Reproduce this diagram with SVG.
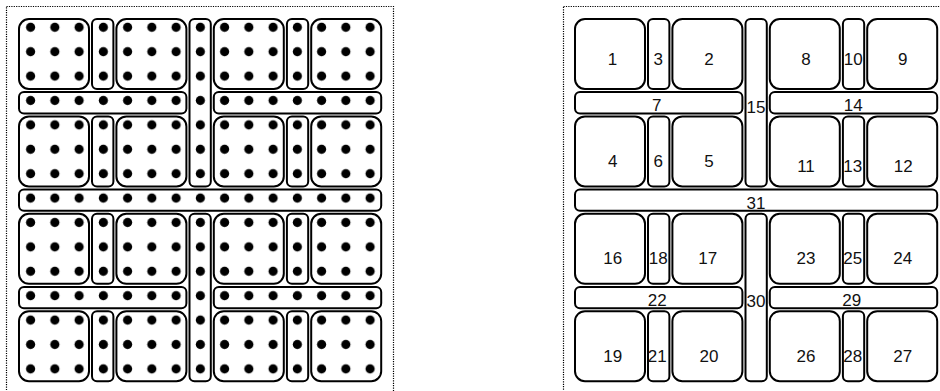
<svg xmlns="http://www.w3.org/2000/svg" width="940" height="391" viewBox="0 0 940 391">
<style>
.frame{fill:none;stroke:#000;stroke-width:1.2;stroke-dasharray:1.2 1.2}
.s{fill:#fff;stroke:#000;stroke-width:2}
.lbl{font-family:"Liberation Sans",Arial,sans-serif;font-size:17px;fill:#111;text-anchor:middle}
</style>
<defs>
<pattern id="dots" patternUnits="userSpaceOnUse" x="18.475" y="15.1" width="24.25" height="24.4">
<circle cx="12.125" cy="12.2" r="4.6" fill="#000"/>
</pattern>
</defs>
<rect width="940" height="391" fill="#fff"/>
<rect class="frame" x="6.5" y="6.5" width="387" height="400"/>
<rect class="frame" x="563.5" y="6.5" width="400" height="400"/>

<g id="left-panel">
<g id="L1"><rect class="s" x="19" y="19" width="70" height="70" rx="10"/></g>
<g id="L3"><rect class="s" x="92" y="19" width="21.4" height="70" rx="5"/></g>
<g id="L2"><rect class="s" x="116.4" y="19" width="70" height="70" rx="10"/></g>
<g id="L15"><rect class="s" x="189.5" y="19" width="21.3" height="167.4" rx="5"/></g>
<g id="L8"><rect class="s" x="213.8" y="19" width="70" height="70" rx="10"/></g>
<g id="L10"><rect class="s" x="286.9" y="19" width="21.3" height="70" rx="5"/></g>
<g id="L9"><rect class="s" x="311.2" y="19" width="70" height="70" rx="10"/></g>
<g id="L7"><rect class="s" x="19" y="92" width="167.4" height="21.4" rx="5"/></g>
<g id="L14"><rect class="s" x="213.8" y="92" width="167.4" height="21.4" rx="5"/></g>
<g id="L4"><rect class="s" x="19" y="116.4" width="70" height="70" rx="10"/></g>
<g id="L6"><rect class="s" x="92" y="116.4" width="21.4" height="70" rx="5"/></g>
<g id="L5"><rect class="s" x="116.4" y="116.4" width="70" height="70" rx="10"/></g>
<g id="L11"><rect class="s" x="213.8" y="116.4" width="70" height="70" rx="10"/></g>
<g id="L13"><rect class="s" x="286.9" y="116.4" width="21.3" height="70" rx="5"/></g>
<g id="L12"><rect class="s" x="311.2" y="116.4" width="70" height="70" rx="10"/></g>
<g id="L31"><rect class="s" x="19" y="189.5" width="362.2" height="21.3" rx="5"/></g>
<g id="L16"><rect class="s" x="19" y="213.8" width="70" height="70" rx="10"/></g>
<g id="L18"><rect class="s" x="92" y="213.8" width="21.4" height="70" rx="5"/></g>
<g id="L17"><rect class="s" x="116.4" y="213.8" width="70" height="70" rx="10"/></g>
<g id="L30"><rect class="s" x="189.5" y="213.8" width="21.3" height="167.4" rx="5"/></g>
<g id="L23"><rect class="s" x="213.8" y="213.8" width="70" height="70" rx="10"/></g>
<g id="L25"><rect class="s" x="286.9" y="213.8" width="21.3" height="70" rx="5"/></g>
<g id="L24"><rect class="s" x="311.2" y="213.8" width="70" height="70" rx="10"/></g>
<g id="L22"><rect class="s" x="19" y="286.9" width="167.4" height="21.3" rx="5"/></g>
<g id="L29"><rect class="s" x="213.8" y="286.9" width="167.4" height="21.3" rx="5"/></g>
<g id="L19"><rect class="s" x="19" y="311.2" width="70" height="70" rx="10"/></g>
<g id="L21"><rect class="s" x="92" y="311.2" width="21.4" height="70" rx="5"/></g>
<g id="L20"><rect class="s" x="116.4" y="311.2" width="70" height="70" rx="10"/></g>
<g id="L26"><rect class="s" x="213.8" y="311.2" width="70" height="70" rx="10"/></g>
<g id="L28"><rect class="s" x="286.9" y="311.2" width="21.3" height="70" rx="5"/></g>
<g id="L27"><rect class="s" x="311.2" y="311.2" width="70" height="70" rx="10"/></g>
<rect id="dot-grid" x="18" y="15" width="366" height="367" fill="url(#dots)"/>
</g>

<g id="right-panel">
<g id="n1"><rect class="s" x="575" y="19" width="70" height="70" rx="10"/><text class="lbl" x="612.5" y="65">1</text></g>
<g id="n3"><rect class="s" x="648" y="19" width="21.4" height="70" rx="5"/><text class="lbl" x="658.3" y="65">3</text></g>
<g id="n2"><rect class="s" x="672.4" y="19" width="70" height="70" rx="10"/><text class="lbl" x="709" y="65">2</text></g>
<g id="n15"><rect class="s" x="745.5" y="19" width="21.3" height="167.4" rx="5"/><text class="lbl" x="756" y="113.3">15</text></g>
<g id="n8"><rect class="s" x="769.8" y="19" width="70" height="70" rx="10"/><text class="lbl" x="806" y="65">8</text></g>
<g id="n10"><rect class="s" x="842.9" y="19" width="21.3" height="70" rx="5"/><text class="lbl" x="853.3" y="65">10</text></g>
<g id="n9"><rect class="s" x="867.2" y="19" width="70" height="70" rx="10"/><text class="lbl" x="902.7" y="65">9</text></g>
<g id="n7"><rect class="s" x="575" y="92" width="167.4" height="21.4" rx="5"/><text class="lbl" x="656.7" y="111">7</text></g>
<g id="n14"><rect class="s" x="769.8" y="92" width="167.4" height="21.4" rx="5"/><text class="lbl" x="853.3" y="111">14</text></g>
<g id="n4"><rect class="s" x="575" y="116.4" width="70" height="70" rx="10"/><text class="lbl" x="612.7" y="166.8">4</text></g>
<g id="n6"><rect class="s" x="648" y="116.4" width="21.4" height="70" rx="5"/><text class="lbl" x="658.3" y="166.8">6</text></g>
<g id="n5"><rect class="s" x="672.4" y="116.4" width="70" height="70" rx="10"/><text class="lbl" x="709" y="166.8">5</text></g>
<g id="n11"><rect class="s" x="769.8" y="116.4" width="70" height="70" rx="10"/><text class="lbl" x="806" y="171.5">11</text></g>
<g id="n13"><rect class="s" x="842.9" y="116.4" width="21.3" height="70" rx="5"/><text class="lbl" x="852.7" y="171.5">13</text></g>
<g id="n12"><rect class="s" x="867.2" y="116.4" width="70" height="70" rx="10"/><text class="lbl" x="903.3" y="171.5">12</text></g>
<g id="n31"><rect class="s" x="575" y="189.5" width="362.2" height="21.3" rx="5"/><text class="lbl" x="756" y="209">31</text></g>
<g id="n16"><rect class="s" x="575" y="213.8" width="70" height="70" rx="10"/><text class="lbl" x="612.7" y="264">16</text></g>
<g id="n18"><rect class="s" x="648" y="213.8" width="21.4" height="70" rx="5"/><text class="lbl" x="658.3" y="264">18</text></g>
<g id="n17"><rect class="s" x="672.4" y="213.8" width="70" height="70" rx="10"/><text class="lbl" x="707.7" y="264">17</text></g>
<g id="n30"><rect class="s" x="745.5" y="213.8" width="21.3" height="167.4" rx="5"/><text class="lbl" x="756" y="307.3">30</text></g>
<g id="n23"><rect class="s" x="769.8" y="213.8" width="70" height="70" rx="10"/><text class="lbl" x="806" y="264">23</text></g>
<g id="n25"><rect class="s" x="842.9" y="213.8" width="21.3" height="70" rx="5"/><text class="lbl" x="852.7" y="264">25</text></g>
<g id="n24"><rect class="s" x="867.2" y="213.8" width="70" height="70" rx="10"/><text class="lbl" x="902.7" y="264">24</text></g>
<g id="n22"><rect class="s" x="575" y="286.9" width="167.4" height="21.3" rx="5"/><text class="lbl" x="657.3" y="305.7">22</text></g>
<g id="n29"><rect class="s" x="769.8" y="286.9" width="167.4" height="21.3" rx="5"/><text class="lbl" x="851.7" y="305.7">29</text></g>
<g id="n19"><rect class="s" x="575" y="311.2" width="70" height="70" rx="10"/><text class="lbl" x="612.7" y="361.7">19</text></g>
<g id="n21"><rect class="s" x="648" y="311.2" width="21.4" height="70" rx="5"/><text class="lbl" x="657.3" y="361.7">21</text></g>
<g id="n20"><rect class="s" x="672.4" y="311.2" width="70" height="70" rx="10"/><text class="lbl" x="709" y="361.7">20</text></g>
<g id="n26"><rect class="s" x="769.8" y="311.2" width="70" height="70" rx="10"/><text class="lbl" x="806" y="361.7">26</text></g>
<g id="n28"><rect class="s" x="842.9" y="311.2" width="21.3" height="70" rx="5"/><text class="lbl" x="852.7" y="361.7">28</text></g>
<g id="n27"><rect class="s" x="867.2" y="311.2" width="70" height="70" rx="10"/><text class="lbl" x="902.7" y="361.7">27</text></g>
</g>
<g id="connectors"/>
</svg>
